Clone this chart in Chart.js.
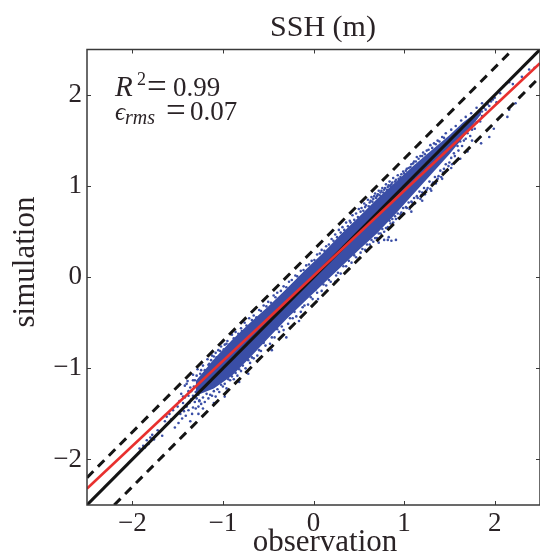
<!DOCTYPE html>
<html>
<head>
<meta charset="utf-8">
<script src="https://cdn.jsdelivr.net/npm/chart.js@4"></script>
<style>
  html, body { margin: 0; padding: 0; background: #fff; }
  #wrap { position: relative; width: 540px; height: 555px; }
</style>
</head>
<body>
<div id="wrap"><canvas id="chart" width="540" height="555"></canvas></div>
<script>
const tickVals = [-2, -1, 0, 1, 2];

// reference lines
const lineObs = [-2.5, 2.5];
const oneToOne = [-2.5, 2.5];
const fitSim = [-2.32, 2.35];
const upperDashObs = [-2.5, 2.2];
const upperDashSim = [-2.2, 2.5];
const lowerDashObs = [-2.2, 2.5];
const lowerDashSim = [-2.5, 2.2];

// the solid part of the cloud, upper and lower edge
const coreObs = [-1.3, -1.1, -0.9, -0.7, -0.5, -0.3, -0.1, 0.1, 0.3, 0.5, 0.7, 0.9, 1.1, 1.3, 1.5, 1.65, 1.85];
const coreUpper = [-1.14, -0.9, -0.69, -0.5, -0.32, -0.13, 0.07, 0.26, 0.47, 0.66, 0.86, 1.04, 1.22, 1.39, 1.56, 1.7, 1.85];
const coreLower = [-1.3, -1.22, -1.08, -0.88, -0.67, -0.46, -0.27, -0.08, 0.11, 0.3, 0.48, 0.69, 0.91, 1.13, 1.35, 1.53, 1.79];

// scattered points around the core
const upperFringe = [
  [-1.42,-1.19],[-1.39,-1.14],[-1.36,-1.21],[-1.33,-1.07],[-1.31,-1.13],[-1.28,-1.01],[-1.25,-1.06],[-1.22,-0.97],
  [-1.2,-1.02],[-1.17,-0.9],[-1.15,-0.95],[-1.12,-0.86],[-1.08,-0.83],[-1.05,-0.8],[-1.02,-0.76],[-0.98,-0.74],
  [-0.95,-0.7],[-0.9,-0.63],[-0.86,-0.6],[-0.8,-0.56],[-0.76,-0.5],[-0.71,-0.45],[-0.66,-0.42],[-0.6,-0.36],
  [-0.55,-0.31],[-0.5,-0.27],[-0.44,-0.2],[-0.4,-0.17],[-0.33,-0.1],[-0.27,-0.05],[-0.2,0.02],[-0.14,0.07],
  [-0.08,0.13],[-0.02,0.18],[0.04,0.25],[0.09,0.3],[0.14,0.34],[0.2,0.42],[0.24,0.47],[0.28,0.52],
  [0.32,0.55],[0.36,0.6],[0.4,0.62],[0.43,0.68],[0.47,0.7],[0.5,0.75],[0.53,0.76],[0.56,0.81],
  [0.58,0.79],[0.6,0.85],[0.62,0.82],[0.64,0.88],[0.66,0.86],[0.68,0.92],[0.7,0.89],[0.72,0.95],
  [0.74,0.93],[0.76,0.98],[0.78,0.96],[0.8,1.02],[0.82,0.99],[0.84,1.05],[0.86,1.02],[0.88,1.09],
  [0.9,1.05],[0.93,1.12],[0.96,1.1],[0.99,1.16],[1.02,1.17],[1.05,1.2],[1.08,1.24],[1.11,1.27],
  [1.14,1.32],[1.18,1.33],[1.21,1.37],[1.25,1.39],[1.29,1.45],[1.33,1.47],[1.37,1.5],[1.42,1.54],
  [1.46,1.58],[1.52,1.62],[1.57,1.66],[1.63,1.72],[1.68,1.76],[1.74,1.8],[1.8,1.86],[1.86,1.91]
];
const upperMid = [
  [-1.29,-1.08],[-1.24,-1.02],[-1.21,-1.06],[-1.16,-0.96],[-1.13,-0.91],[-1.1,-0.87],[-1.07,-0.88],[-1.03,-0.81],
  [-0.99,-0.79],[-0.96,-0.73],[-0.93,-0.74],[-0.88,-0.67],[-0.83,-0.62],[-0.79,-0.59],[-0.74,-0.53],[-0.68,-0.47],
  [-0.63,-0.44],[-0.58,-0.37],[-0.52,-0.32],[-0.47,-0.28],[-0.42,-0.22],[-0.36,-0.15],[-0.3,-0.11],[-0.24,-0.03],
  [-0.18,0.01],[-0.11,0.08],[-0.05,0.14],[0.01,0.19],[0.07,0.26],[0.12,0.29],[0.17,0.36],[0.22,0.4],
  [0.26,0.44],[0.3,0.49],[0.34,0.52],[0.38,0.56],[0.41,0.6],[0.45,0.63],[0.49,0.66],[0.52,0.72],
  [0.55,0.73],[0.57,0.77],[0.61,0.78],[0.63,0.84],[0.65,0.83],[0.67,0.89],[0.69,0.87],[0.71,0.91],
  [0.73,0.9],[0.75,0.95],[0.77,0.93],[0.79,0.98],[0.81,0.96],[0.83,1.01],[0.85,1],[0.87,1.04],
  [0.91,1.07],[0.94,1.08],[0.97,1.13],[1,1.14],[1.03,1.19],[1.07,1.21],[1.1,1.25],[1.13,1.27],
  [1.16,1.3],[1.2,1.33],[1.23,1.35],[1.27,1.4],[1.31,1.42],[1.35,1.46],[1.39,1.49],[1.44,1.53]
];
const lowerFringe = [
  [-1.38,-1.46],[-1.34,-1.5],[-1.3,-1.44],[-1.27,-1.42],[-1.24,-1.39],[-1.2,-1.37],[-1.16,-1.33],[-1.12,-1.3],
  [-1.08,-1.31],[-1.04,-1.26],[-1,-1.2],[-0.96,-1.22],[-0.92,-1.13],[-0.88,-1.12],[-0.84,-1.08],[-0.8,-1.03],
  [-0.75,-1],[-0.7,-0.94],[-0.66,-0.89],[-0.62,-0.86],[-0.58,-0.81],[-0.53,-0.75],[-0.48,-0.73],[-0.43,-0.66],
  [-0.38,-0.6],[-0.33,-0.58],[-0.28,-0.51],[-0.23,-0.45],[-0.19,-0.43],[-0.14,-0.38],[-0.1,-0.31],[-0.06,-0.3],
  [-0.01,-0.24],[0.04,-0.17],[0.09,-0.15],[0.14,-0.09],[0.19,-0.05],[0.25,0.02],[0.3,0.04],[0.36,0.12],
  [0.42,0.16],[0.47,0.22],[0.52,0.27],[0.57,0.3],[0.62,0.36],[0.66,0.39],[0.7,0.43],[0.74,0.48],
  [0.78,0.5],[0.82,0.55],[0.85,0.59],[0.88,0.6],[0.91,0.64],[0.94,0.65],[0.97,0.71],[1,0.7],
  [1.03,0.76],[1.06,0.75],[1.09,0.82],[1.12,0.81],[1.15,0.87],[1.18,0.86],[1.2,0.93],[1.23,0.91],
  [1.26,0.98],[1.29,0.97],[1.32,1.04],[1.35,1.03],[1.38,1.11],[1.41,1.1],[1.44,1.19],[1.47,1.17],
  [1.5,1.26],[1.53,1.24],[1.56,1.33],[1.6,1.39],[1.64,1.44],[1.68,1.52],[1.73,1.55],[1.78,1.63],[1.84,1.71]
];
const lowerMid = [
  [-1.26,-1.35],[-1.22,-1.32],[-1.18,-1.28],[-1.14,-1.29],[-1.1,-1.25],[-1.06,-1.23],[-1.02,-1.18],[-0.98,-1.17],
  [-0.94,-1.12],[-0.9,-1.09],[-0.86,-1.05],[-0.82,-1.01],[-0.78,-0.97],[-0.72,-0.91],[-0.68,-0.88],[-0.6,-0.8],
  [-0.55,-0.72],[-0.46,-0.66],[-0.4,-0.57],[-0.35,-0.54],[-0.26,-0.45],[-0.21,-0.38],[-0.12,-0.33],[-0.03,-0.22],
  [0.02,-0.14],[0.11,-0.08],[0.17,-0.03],[0.27,0.05],[0.33,0.12],[0.39,0.18],[0.45,0.24],[0.54,0.31],
  [0.59,0.36],[0.64,0.41],[0.68,0.43],[0.72,0.48],[0.76,0.53],[0.8,0.54],[0.84,0.62],[0.87,0.64],
  [0.9,0.67],[0.93,0.7],[0.96,0.69],[0.99,0.76],[1.02,0.77],[1.05,0.82],[1.08,0.83],[1.11,0.87],
  [1.14,0.89],[1.17,0.94],[1.19,0.9],[1.22,0.98],[1.25,0.96],[1.28,1.05],[1.31,1.02],[1.34,1.1],
  [1.37,1.08],[1.4,1.17],[1.43,1.15],[1.46,1.24],[1.49,1.22],[1.52,1.31],[1.55,1.36],[1.59,1.44],
  [1.62,1.49],[1.66,1.5],[1.7,1.58],[1.75,1.62],[1.8,1.7],[1.86,1.77]
];
const tailPoints = [
  [-1.93,-1.93],[-1.92,-1.88],[-1.9,-1.9],[-1.88,-1.85],[-1.86,-1.87],[-1.84,-1.79],[-1.82,-1.83],[-1.8,-1.76],
  [-1.78,-1.73],[-1.76,-1.78],[-1.72,-1.68],[-1.67,-1.74],[-1.64,-1.58],[-1.62,-1.53],[-1.59,-1.5],[-1.57,-1.56],
  [-1.55,-1.46],[-1.53,-1.65],[-1.52,-1.52],[-1.5,-1.42],[-1.49,-1.6],[-1.48,-1.36],[-1.47,-1.5],[-1.45,-1.55],
  [-1.44,-1.31],[-1.43,-1.47],[-1.41,-1.52],[-1.4,-1.17],[-1.38,-1.25],[-1.36,-1.58],[-1.33,-1.43],[-1.33,-1.13],
  [-1.46,-1.28],[-1.44,-1.38],[-1.42,-1.32],[-1.4,-1.42],[-1.38,-1.3],[-1.37,-1.38],[-1.35,-1.25],[-1.35,-1.34],
  [-1.33,-1.3],[-1.32,-1.2],[-1.31,-1.37],[-1.3,-1.26],[-1.29,-1.33],[-1.28,-1.18],[-1.27,-1.29],[-1.26,-1.36],
  [-1.27,-1.5],[-1.22,-1.44],[-1.1,-1.38],[-0.98,-1.31],[-0.82,-1.15],[-0.72,-1.06],[-0.46,-0.8],[-0.3,-0.66],
  [-0.16,-0.48],[0.05,-0.24],[0.24,-0.05],[0.78,0.41],[0.82,0.41],[0.86,0.4],[0.91,0.41],[0.83,0.44],
  [0.72,0.38],[1.08,0.72],[1.2,0.84],[1.3,0.95],[1.42,1.08],[1.52,1.2],[1.62,1.3],[1.7,1.38],
  [1.75,1.5],[1.85,1.47],[1.94,1.54],[1.99,1.63],[2.02,1.92],[2.06,2.02],[2.1,2.1],[2.13,2.13],
  [1.86,1.82],[1.88,1.86],[1.9,1.84],[1.92,1.9],[1.94,1.88],[1.96,1.93],[1.98,1.95],[2,1.97],
  [2.16,2.14],[2.2,2.12],[2.14,1.76],[2.16,1.84],[2.23,1.91],[2.3,2.2],[2.38,2.28],[2.44,2.3]
];
const scatterPoints = upperFringe.concat(upperMid, lowerFringe, lowerMid, tailPoints);

const inkColor = "#2a2326";
const cloudColor = "#3a4ea6";
const serif = '"Liberation Serif", serif';

function xy(xs, ys) {
  return xs.map((x, i) => ({ x: x, y: ys[i] }));
}

// frame with small inward ticks on all four sides, as in the original
const framePlugin = {
  id: "frame",
  afterDatasetsDraw(chart) {
    const { ctx, chartArea: a, scales } = chart;
    ctx.save();
    ctx.strokeStyle = "#3a3a3a";
    ctx.lineWidth = 1;
    ctx.beginPath();
    tickVals.forEach((v) => {
      const px = Math.round(scales.x.getPixelForValue(v)) + 0.5;
      const py = Math.round(scales.y.getPixelForValue(v)) + 0.5;
      ctx.moveTo(px, a.bottom); ctx.lineTo(px, a.bottom - 4);
      ctx.moveTo(px, a.top); ctx.lineTo(px, a.top + 4);
      ctx.moveTo(a.left, py); ctx.lineTo(a.left + 4, py);
      ctx.moveTo(a.right, py); ctx.lineTo(a.right - 4, py);
    });
    ctx.stroke();
    ctx.lineWidth = 1.5;
    ctx.strokeRect(a.left, a.top, a.right - a.left, a.bottom - a.top);
    ctx.restore();
  },
  afterDraw(chart) {
    const { ctx } = chart;
    ctx.save();
    ctx.fillStyle = inkColor;
    ctx.textBaseline = "alphabetic";
    ctx.textAlign = "center";
    // titles sit off the plot centre in the original
    ctx.font = `30px ${serif}`;
    ctx.fillText("SSH (m)", 323, 36);
    ctx.font = `31px ${serif}`;
    ctx.fillText("observation", 325, 551);
    ctx.save();
    ctx.translate(34, 262);
    ctx.rotate(-Math.PI / 2);
    ctx.fillText("simulation", 0, 0);
    ctx.restore();

    ctx.textAlign = "left";
    // R^2 = 0.99
    ctx.font = `italic 29px ${serif}`;
    ctx.fillText("R", 115, 96);
    ctx.font = `18px ${serif}`;
    ctx.fillText("2", 137, 85);
    ctx.font = `35px ${serif}`;
    ctx.fillText("=", 147, 98);
    ctx.font = `27px ${serif}`;
    ctx.fillText("0.99", 173, 96);
    // eps_rms = 0.07
    ctx.font = `italic 25px ${serif}`;
    ctx.fillText("ϵ", 115, 120);
    ctx.font = `italic 20px ${serif}`;
    ctx.fillText("rms", 125, 124);
    ctx.font = `35px ${serif}`;
    ctx.fillText("=", 166, 122);
    ctx.font = `27px ${serif}`;
    ctx.fillText("0.07", 190, 120);
    ctx.restore();
  },
};

new Chart(document.getElementById("chart"), {
  type: "scatter",
  data: {
    datasets: [
      {
        data: xy(coreObs, coreLower),
        showLine: true,
        pointRadius: 0,
        borderWidth: 0,
        borderColor: cloudColor,
        order: 6,
      },
      {
        data: xy(coreObs, coreUpper),
        showLine: true,
        pointRadius: 0,
        borderWidth: 0,
        borderColor: cloudColor,
        backgroundColor: cloudColor,
        fill: "-1",
        order: 5,
      },
      {
        data: scatterPoints.map((p) => ({ x: p[0], y: p[1] })),
        pointRadius: 1.3,
        pointBorderWidth: 0,
        pointBackgroundColor: cloudColor,
        order: 4,
      },
      {
        data: xy(lineObs, oneToOne),
        showLine: true,
        pointRadius: 0,
        borderColor: "#141414",
        borderWidth: 3,
        order: 3,
      },
      {
        data: xy(lineObs, fitSim),
        showLine: true,
        pointRadius: 0,
        borderColor: "#e8302e",
        borderWidth: 2.8,
        order: 2,
      },
      {
        data: xy(upperDashObs, upperDashSim),
        showLine: true,
        pointRadius: 0,
        borderColor: "#141414",
        borderWidth: 3,
        borderDash: [9, 6.5],
        order: 1,
      },
      {
        data: xy(lowerDashObs, lowerDashSim),
        showLine: true,
        pointRadius: 0,
        borderColor: "#141414",
        borderWidth: 3,
        borderDash: [9, 6.5],
        order: 1,
      },
    ],
  },
  options: {
    responsive: false,
    animation: false,
    events: [],
    layout: { autoPadding: false, padding: { top: 49.5, left: 0, right: 0, bottom: 0 } },
    plugins: {
      legend: { display: false },
      tooltip: { enabled: false },
    },
    scales: {
      x: {
        type: "linear",
        min: -2.5,
        max: 2.5,
        afterBuildTicks(scale) {
          scale.ticks = tickVals.map((v) => ({ value: v }));
        },
        afterFit(scale) {
          scale.height = 50;
          scale.paddingLeft = 0;
          scale.paddingRight = 0;
        },
        grid: { display: false, drawTicks: false },
        border: { display: false },
        ticks: {
          color: inkColor,
          font: { family: serif, size: 27 },
          padding: 3,
          maxRotation: 0,
          callback: (v) => String(v).replace("-", "\u2212"),
        },
      },
      y: {
        type: "linear",
        min: -2.5,
        max: 2.5,
        afterBuildTicks(scale) {
          scale.ticks = tickVals.map((v) => ({ value: v }));
        },
        afterFit(scale) {
          scale.width = 87;
          scale.paddingTop = 0;
          scale.paddingBottom = 0;
        },
        grid: { display: false, drawTicks: false },
        border: { display: false },
        ticks: {
          color: inkColor,
          font: { family: serif, size: 27 },
          padding: 5,
          callback: (v) => String(v).replace("-", "\u2212"),
        },
      },
    },
  },
  plugins: [framePlugin],
});
</script>
</body>
</html>
